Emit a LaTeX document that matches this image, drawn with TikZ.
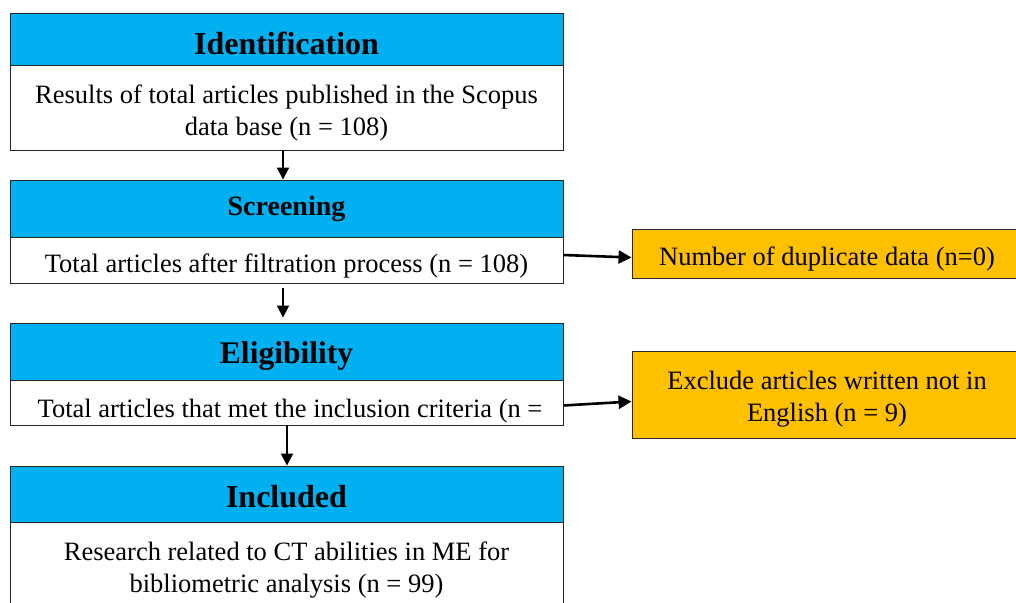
\documentclass[tikz,border=0pt]{standalone}
\usepackage{fontspec}
\setmainfont{Liberation Serif}
\usetikzlibrary{arrows.meta}
\definecolor{hdrblue}{HTML}{00B0F0}
\definecolor{exorange}{HTML}{FFC000}
\begin{document}
\begin{tikzpicture}[x=1pt,y=-1pt,
  hdr/.style={draw=black!85,line width=0.9pt,fill=hdrblue,inner sep=0pt,minimum width=553pt},
  hdrtxt/.style={inner sep=0pt,font=\bfseries},
  bodybox/.style={draw=black!85,line width=0.9pt,fill=white,inner sep=0pt,minimum width=553pt},
  exbox/.style={draw=black!85,line width=0.9pt,fill=exorange,inner sep=0pt,minimum width=390pt},
  txt/.style={align=center,inner sep=0pt,font=\fontsize{26.5}{32}\selectfont},
  arr/.style={draw=black,line width=1.8pt,-{Triangle[length=12pt,width=12pt]}},
  sidearr/.style={draw=black,line width=2.6pt,-{Triangle[length=13pt,width=13pt]}}
]
\useasboundingbox (0,0) rectangle (1016,602);
% Identification
\node[hdr,minimum height=52pt] (h1) at (286.5,39) {};
\node[hdrtxt,font=\fontsize{32}{36}\selectfont\bfseries] (ht1) at (286.5,43) {Identification};
\node[bodybox,minimum height=85pt] (b1) at (286.5,107.5) {};
\node[txt] (t1) at (286.5,113) {Results of total articles published in the Scopus\\data base (n = 108)};
% Screening
\node[hdr,minimum height=57pt] (h2) at (286.5,208.5) {};
\node[hdrtxt,font=\fontsize{28}{32}\selectfont\bfseries] (ht2) at (286.5,209) {Screening};
\node[bodybox,minimum height=46pt] (b2) at (286.5,260) {};
\node[txt] (t2) at (286.5,266) {Total articles after filtration process (n = 108)};
% Eligibility
\node[hdr,minimum height=57pt] (h3) at (286.5,351.5) {};
\node[hdrtxt,font=\fontsize{31.5}{36}\selectfont\bfseries] (ht3) at (286.5,356) {Eligibility};
\node[bodybox,minimum height=45pt] (b3) at (286.5,402.5) {};
\node[txt] (t3) at (290,411) {Total articles that met the inclusion criteria (n =};
% Included
\node[hdr,minimum height=56pt] (h4) at (286.5,494) {};
\node[hdrtxt,font=\fontsize{32}{36}\selectfont\bfseries] (ht4) at (286.5,497) {Included};
\node[bodybox,minimum height=90pt] (b4) at (286.5,567) {};
\node[txt] (t4) at (286.5,570) {Research related to CT abilities in ME for\\bibliometric analysis (n = 99)};
% Exclusion boxes
\node[exbox,minimum height=49pt] (e1) at (827,253.5) {};
\node[txt] (te1) at (827,259) {Number of duplicate data (n=0)};
\node[exbox,minimum height=87pt] (e2) at (827,394.5) {};
\node[txt] (te2) at (827,399) {Exclude articles written not in\\English (n = 9)};
% Arrows
\draw[arr] ([xshift=-3.5pt]b1.south) -- ([xshift=-3.5pt]h2.north);
\draw[arr] ([xshift=-3.5pt,yshift=-5pt]b2.south) -- ([xshift=-3.5pt,yshift=5pt]h3.north);
\draw[arr] ([xshift=0.5pt]b3.south) -- ([xshift=0.5pt]h4.north);
\draw[sidearr] ([yshift=5pt]b2.east) -- ([yshift=-4pt]e1.west);
\draw[sidearr] ([yshift=-3pt]b3.east) -- ([yshift=-7pt]e2.west);
\end{tikzpicture}
\end{document}
